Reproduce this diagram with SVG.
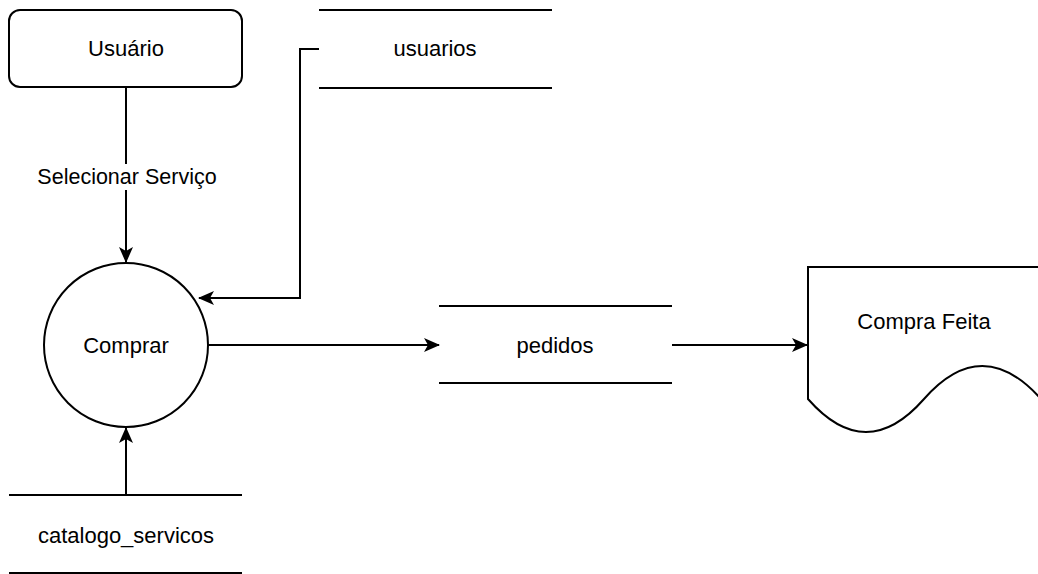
<svg xmlns="http://www.w3.org/2000/svg" width="1038" height="574" viewBox="0 0 1038 574">
<style>
.s{fill:none;stroke:#000;stroke-width:2}
.n{fill:#fff;stroke:#000;stroke-width:2}
.t{font-family:"Liberation Sans",Arial,sans-serif;font-size:22px;fill:#000;text-anchor:middle;dominant-baseline:central}
.l{font-family:"Liberation Sans",Arial,sans-serif;font-size:21.5px;fill:#000;text-anchor:middle;dominant-baseline:central}
</style>
<defs>
<marker id="a" viewBox="0 0 16 14" refX="15" refY="7" markerWidth="16" markerHeight="14" markerUnits="userSpaceOnUse" orient="auto">
<path d="M0,0 L16,7 L0,14 L4,7 Z" fill="#000"/>
</marker>
</defs>
<rect width="1038" height="574" fill="#fff"/>
<g id="connectors">
<path class="s" d="M126,87 V262" marker-end="url(#a)"/>
<rect x="34" y="164" width="186" height="26" fill="#fff"/>
<text class="l" x="127" y="177">Selecionar Serviço</text>
<path class="s" d="M319,49 H300 V298 H199" marker-end="url(#a)"/>
<path class="s" d="M126,495 V428" marker-end="url(#a)"/>
<path class="s" d="M208,345 H439" marker-end="url(#a)"/>
<path class="s" d="M672,345 H807" marker-end="url(#a)"/>
</g>
<g id="usuario">
<rect class="n" x="9" y="10" width="233" height="77" rx="11"/>
<text class="t" x="126" y="48">Usuário</text>
</g>
<g id="usuarios">
<path class="s" d="M319,10 H552 M319,88 H552"/>
<text class="t" x="435" y="48">usuarios</text>
</g>
<g id="comprar">
<circle class="n" cx="126" cy="345" r="82"/>
<text class="t" x="126" y="345">Comprar</text>
</g>
<g id="catalogo_servicos">
<path class="s" d="M9,495 H242 M9,573 H242"/>
<text class="t" x="126" y="535">catalogo_servicos</text>
</g>
<g id="pedidos">
<path class="s" d="M439,306 H672 M439,383 H672"/>
<text class="t" x="555" y="345">pedidos</text>
</g>
<g id="compra_feita">
<path class="n" d="M808,267 H1041 V399 Q982,333 924,399 Q866,465 808,399 Z"/>
<text class="t" x="924" y="321">Compra Feita</text>
</g>
</svg>
